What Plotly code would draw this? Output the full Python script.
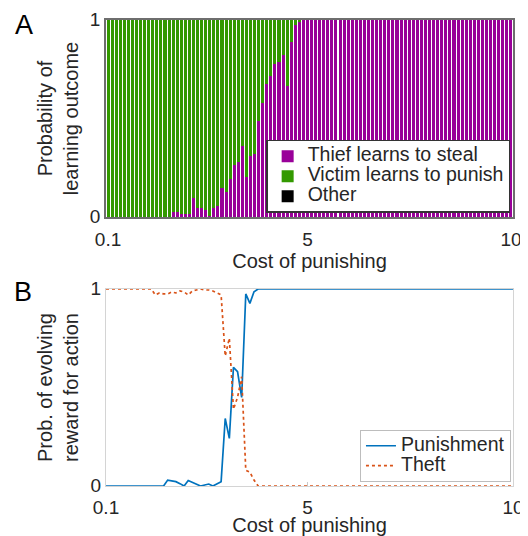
import plotly.graph_objects as go

# ---- data ----
cost = [round(0.1 * k, 1) for k in range(1, 101)]

# Panel A: probability that the thief learns to steal (purple, bottom of stack)
thief_steal = ([0.0] * 16 +
               [0.025, 0.025, 0.013, 0.013, 0.013, 0.097, 0.046, 0.046, 0.037, 0.003,
                0.046, 0.054, 0.147, 0.127, 0.195, 0.266, 0.278, 0.36, 0.203, 0.308,
                0.319, 0.488, 0.578, 0.677, 0.718, 0.778, 0.788, 0.82, 0.665, 0.887,
                0.977, 0.988] +
               [1.0] * 52)
other = [0.0] * 100
victim_punish = [round(1.0 - t - o, 3) for t, o in zip(thief_steal, other)]

# Panel B: probability of evolving reward for action
punishment = ([0.0] * 15 +
              [0.03, 0.027, 0.022, 0.012, 0.0, 0.028, 0.02, 0.01, 0.0, 0.005,
               0.01, 0.0, 0.01, 0.022, 0.343, 0.242, 0.602, 0.58, 0.45, 0.975,
               0.927, 0.986] +
              [1.0] * 63)
theft = ([1.0] * 12 +
         [0.97, 0.98, 0.975, 0.975, 0.985, 0.98, 0.99, 0.985, 0.97, 0.99,
          0.995, 1.0, 0.995, 0.995, 0.99, 0.98, 0.97, 0.66, 0.75, 0.39,
          0.45, 0.555, 0.08, 0.07, 0.03] +
         [0.0] * 63)

x_ticks = [0.1, 5, 10]
x_ticklabels = ["0.1", "5", "10"]
y_ticks = [0, 1]
y_ticklabels = ["0", "1"]

PURPLE = "#990099"
GREEN = "#339900"
BLUE = "#0072BD"
ORANGE = "#D95319"
FONT = "Liberation Sans, Arial, sans-serif"
TXT = "#262626"


def big(s):
    return '<span style="font-size:19.5px">' + s + '</span>'


fig = go.Figure()
fig.add_trace(go.Bar(x=cost, y=thief_steal, name=big("Thief learns to steal"),
                     marker=dict(color=PURPLE, line=dict(width=0)),
                     xaxis="x", yaxis="y", legend="legend"))
fig.add_trace(go.Bar(x=cost, y=victim_punish, name=big("Victim learns to punish"),
                     marker=dict(color=GREEN, line=dict(width=0)),
                     xaxis="x", yaxis="y", legend="legend"))
fig.add_trace(go.Bar(x=cost, y=other, name=big("Other"),
                     marker=dict(color="black", line=dict(width=0)),
                     xaxis="x", yaxis="y", legend="legend"))

fig.add_trace(go.Scatter(x=cost, y=punishment, name=big("Punishment"), mode="lines",
                         line=dict(color=BLUE, width=1.7),
                         xaxis="x2", yaxis="y2", legend="legend2"))
fig.add_trace(go.Scatter(x=cost, y=theft, name=big("Theft"), mode="lines",
                         line=dict(color=ORANGE, width=1.7, dash="dot"),
                         xaxis="x2", yaxis="y2", legend="legend2"))

axis_common = dict(tickfont=dict(size=19, color=TXT, family=FONT),
                   title_font=dict(size=20, color=TXT, family=FONT),
                   zeroline=False, showgrid=False, mirror=True, showline=True,
                   automargin=False)

# the page adds an 8px body margin, so the figure is 8px smaller than the window
fig.update_layout(
    width=520, height=528,
    margin=dict(l=98, r=15, t=12, b=50, autoexpand=False),
    paper_bgcolor="white", plot_bgcolor="white",
    font=dict(family=FONT, color=TXT),
    barmode="stack", bargap=0.25,
    xaxis=dict(domain=[0, 1], anchor="y", range=[0.05, 10.05],
               tickvals=x_ticks, ticktext=x_ticklabels, ticks="",
               ticklabelstandoff=4,
               linecolor="#6e6e6e", linewidth=1.5,
               title=dict(text="Cost of punishing", standoff=0), **axis_common),
    yaxis=dict(domain=[0.5773, 1.0], anchor="x", range=[0, 1],
               tickvals=y_ticks, ticktext=y_ticklabels, ticks="",
               ticklabelshift=-1, ticklabeloverflow="allow",
               linecolor="#6e6e6e", linewidth=1.5,
               title=dict(text="Probability of<br>learning outcome", standoff=6),
               **axis_common),
    xaxis2=dict(domain=[0, 1], anchor="y2", range=[0.1, 10],
                tickvals=x_ticks, ticktext=x_ticklabels, ticks="inside",
                ticklen=4, tickcolor="#c8c8c8", ticklabelstandoff=4,
                linecolor="#d4d4d4", linewidth=1,
                title=dict(text="Cost of punishing", standoff=0), **axis_common),
    yaxis2=dict(domain=[0, 0.4227], anchor="x2", range=[0, 1],
                tickvals=y_ticks, ticktext=y_ticklabels, ticks="",
                ticklabelshift=-1, ticklabeloverflow="allow",
                linecolor="#d4d4d4", linewidth=1,
                title=dict(text="Prob. of evolving<br>reward for action", standoff=6),
                **axis_common),
    legend=dict(x=0.993, y=0.586, xanchor="right", yanchor="bottom",
                traceorder="normal", bgcolor="white", bordercolor="#333333",
                borderwidth=1.5, font=dict(size=13, color=TXT, family=FONT),
                itemwidth=30, tracegroupgap=0),
    legend2=dict(x=0.995, y=0.009, xanchor="right", yanchor="bottom",
                 traceorder="normal", bgcolor="white", bordercolor="#bdbdbd",
                 borderwidth=1, font=dict(size=13, color=TXT, family=FONT),
                 itemwidth=30, tracegroupgap=0),
    annotations=[
        dict(text="A", x=-0.2015, y=0.989, xref="paper", yref="paper",
             xanchor="center", yanchor="middle",
             showarrow=False, font=dict(size=27, color="black", family=FONT)),
        dict(text="B", x=-0.204, y=0.416, xref="paper", yref="paper",
             xanchor="center", yanchor="middle",
             showarrow=False, font=dict(size=27, color="black", family=FONT)),
    ],
)

fig.write_html("out.html")
